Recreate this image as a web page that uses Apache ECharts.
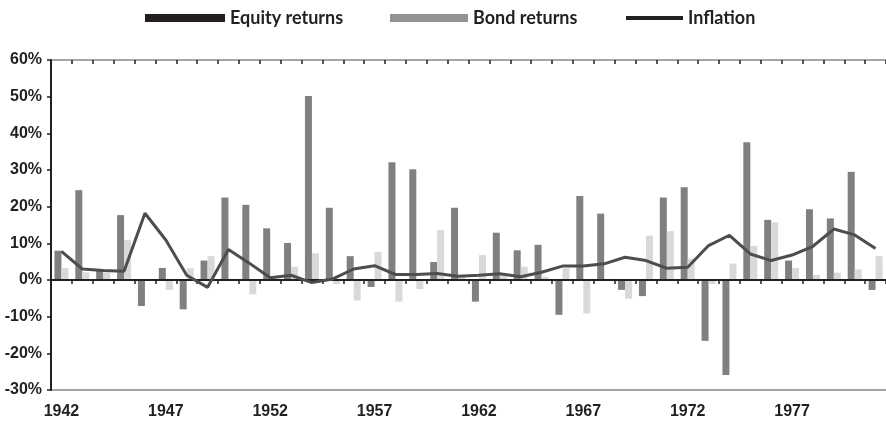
<!DOCTYPE html>
<html lang="en">
<head>
    <meta charset="utf-8">
    <title>Equity returns, bond returns and inflation</title>
    <script type="text/javascript" src="https://cdn.jsdelivr.net/npm/echarts@6.0.0/dist/echarts.min.js"></script>
    <style type="text/css">
        body {
            margin: 0;
            background-color: #ffffff;
        }
    </style>
</head>
<body>
<div id="main" style="width:886px;height:423px;"></div>
<script type="text/javascript">
    // data, % per year
    var years = [];
    for (var y = 1942; y <= 1981; y++) {
        years.push(String(y));
    }
    var equity = [8.0, 24.5, 2.5, 17.7, -7.1, 3.3, -8.0, 5.3, 22.5, 20.5,
        14.1, 10.1, 50.2, 19.7, 6.5, -1.9, 32.1, 30.2, 4.9, 19.7,
        -5.9, 12.9, 8.1, 9.6, -9.5, 22.9, 18.1, -2.7, -4.4, 22.5,
        25.3, -16.6, -25.9, 37.6, 16.4, 5.3, 19.3, 16.8, 29.5, -2.7];
    var bonds = [3.3, 2.1, 2.0, 10.9, 0, -2.7, 3.2, 6.5, 0.3, -3.9,
        0.6, 3.6, 7.3, -1.1, -5.6, 7.7, -5.9, -2.5, 13.6, 1.0,
        6.8, 1.2, 3.6, 0.9, 3.2, -9.1, 0.3, -5.1, 12.1, 13.3,
        5.8, -1.1, 4.5, 9.3, 15.7, 3.3, 1.4, 2.0, 2.9, 6.5];
    var inflation = [7.8, 3.0, 2.6, 2.4, 18.2, 10.9, 1.3, -2.0, 8.3, 4.6,
        0.6, 1.3, -0.7, 0.3, 3.0, 3.9, 1.5, 1.5, 1.8, 1.0,
        1.3, 1.7, 0.9, 2.1, 3.8, 3.8, 4.4, 6.2, 5.3, 3.2,
        3.5, 9.4, 12.2, 7.1, 5.3, 6.8, 9.2, 13.9, 12.3, 8.6];

    var dark = '#231f20';
    var labelFont = {
        color: dark,
        fontFamily: 'Liberation Sans, Arial, sans-serif',
        fontWeight: 'bold',
        fontSize: 16
    };
    var legendText = {
        color: dark,
        fontFamily: 'Lato, sans-serif',
        fontWeight: 'bold',
        fontSize: 18
    };

    var myChart = echarts.init(document.getElementById('main'));

    var option = {
        animation: false,
        legend: [{
            left: 140,
            top: 4,
            icon: 'rect',
            itemWidth: 80,
            itemHeight: 8,
            textStyle: legendText,
            data: [{name: 'Equity returns', itemStyle: {color: dark}}]
        }, {
            left: 385,
            top: 4,
            icon: 'rect',
            itemWidth: 78,
            itemHeight: 8,
            textStyle: legendText,
            data: [{name: 'Bond returns', itemStyle: {color: '#939393'}}]
        }, {
            left: 621,
            top: 4,
            icon: 'rect',
            itemWidth: 57,
            itemHeight: 4,
            textStyle: legendText,
            data: [{name: 'Inflation', itemStyle: {color: dark}}]
        }],
        grid: {
            left: 51,
            right: 0,
            top: 60,
            bottom: 33
        },
        xAxis: [{
            // axis line through 0% with the year ticks
            type: 'category',
            data: years,
            z: 3,
            axisLine: {onZero: true, lineStyle: {color: dark, width: 2}},
            axisTick: {show: true, interval: 0, length: 4, lineStyle: {color: dark, width: 1.5}},
            axisLabel: {show: false}
        }, {
            // same ticks pointing up so they cross the line
            type: 'category',
            data: years,
            z: 3,
            axisLine: {show: false, onZero: true},
            axisTick: {show: true, inside: true, interval: 0, length: 4, lineStyle: {color: dark, width: 1.5}},
            axisLabel: {show: false}
        }, {
            // bottom frame line with the year labels
            type: 'category',
            data: years,
            position: 'bottom',
            axisLine: {onZero: false, lineStyle: {color: '#a6a6a6', width: 2}},
            axisTick: {show: false},
            axisLabel: Object.assign({interval: 4, margin: 14}, labelFont)
        }, {
            // top frame line
            type: 'category',
            data: years,
            position: 'top',
            axisLine: {onZero: false, lineStyle: {color: '#a6a6a6', width: 2}},
            axisTick: {show: false},
            axisLabel: {show: false}
        }],
        yAxis: [{
            type: 'value',
            min: -30,
            max: 60,
            interval: 10,
            z: 3,
            axisLine: {show: true, lineStyle: {color: dark, width: 2}},
            axisTick: {show: true, length: 4, lineStyle: {color: dark, width: 1.5}},
            splitLine: {show: false},
            axisLabel: Object.assign({formatter: '{value}%', margin: 9}, labelFont)
        }],
        series: [{
            name: 'Equity returns',
            type: 'bar',
            barWidth: 7,
            barGap: '0%',
            itemStyle: {color: '#808080'},
            data: equity
        }, {
            name: 'Bond returns',
            type: 'bar',
            barWidth: 7,
            barGap: '0%',
            itemStyle: {color: '#d9d9d9'},
            data: bonds
        }, {
            name: 'Inflation',
            type: 'line',
            z: 4,
            symbol: 'none',
            lineStyle: {color: '#4d4d4d', width: 3},
            itemStyle: {color: '#4d4d4d'},
            data: inflation
        }]
    };

    myChart.setOption(option);
</script>
</body>
</html>
